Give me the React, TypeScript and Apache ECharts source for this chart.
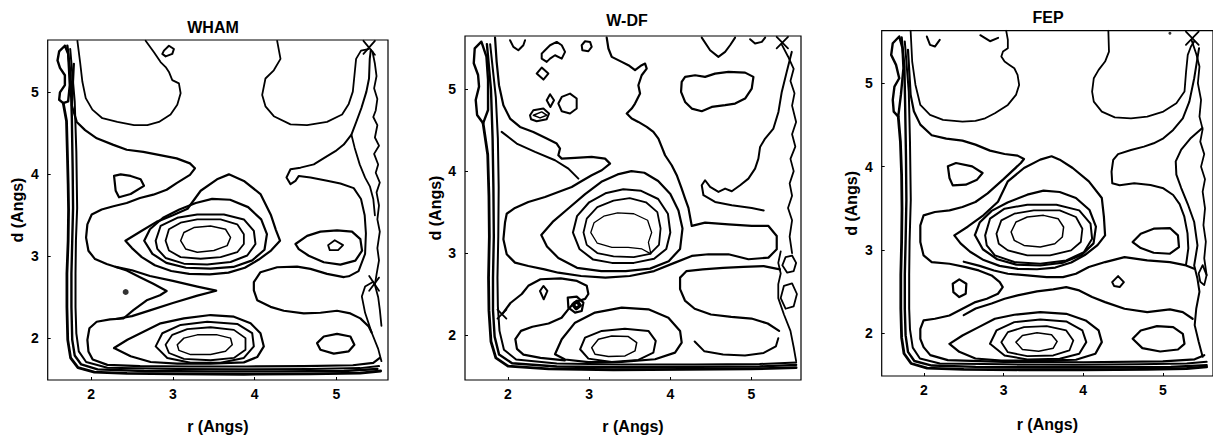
import React, { useEffect, useRef } from "react";
import * as echarts from "echarts";

type Pt = [number, number];
type Contour = { pts: Pt[]; w: number };

// ================= WHAM (r, d in Angstrom) =================
const whamLeaf: Pt[] = [[1.68,5.57],[1.61,5.50],[1.59,5.39],[1.62,5.30],[1.68,5.21],[1.68,5.09],[1.62,5.00],[1.61,4.91],[1.66,4.87],[1.72,4.89],[1.74,5.09],[1.73,5.29],[1.72,5.47],[1.68,5.57]];
const whamWall1: Pt[] = [[1.66,4.87],[1.70,4.65],[1.71,4.28],[1.72,3.88],[1.725,3.57],[1.72,3.19],[1.705,2.79],[1.705,2.38],[1.715,1.98],[1.75,1.76],[1.84,1.64],[2.04,1.585],[2.44,1.57],[3.05,1.565],[3.87,1.56],[4.68,1.565],[5.29,1.575],[5.54,1.60]];
const whamWall2: Pt[] = [[1.71,5.57],[1.75,5.21],[1.765,4.69],[1.775,4.08],[1.78,3.59],[1.77,3.19],[1.76,2.79],[1.76,2.38],[1.77,1.98],[1.80,1.79],[1.88,1.68],[2.08,1.62],[2.65,1.60],[3.46,1.595],[4.28,1.595],[5.09,1.60],[5.50,1.625]];
const whamWall3: Pt[] = [[1.745,5.53],[1.80,4.89],[1.82,4.28],[1.83,3.59],[1.815,3.19],[1.81,2.79],[1.81,2.38],[1.82,2.06],[1.85,1.84],[1.94,1.71],[2.20,1.64],[3.05,1.625],[3.87,1.62],[4.68,1.625],[5.29,1.635],[5.52,1.66]];
const whamOuter: Pt[] = [[1.79,5.35],[1.765,4.84],[1.825,4.64],[1.927,4.54],[2.07,4.44],[2.273,4.36],[2.436,4.30],[2.639,4.275],[2.843,4.235],[3.046,4.195],[3.209,4.134],[3.27,4.074],[3.209,3.993],[3.046,3.893],[2.924,3.812],[2.761,3.752],[2.598,3.712],[2.436,3.651],[2.273,3.611],[2.13,3.571],[2.008,3.51],[1.955,3.389],[1.939,3.228],[1.968,3.067],[2.049,2.966],[2.191,2.906],[2.436,2.826],[2.598,2.745],[2.761,2.664],[2.924,2.576],[2.843,2.524],[2.68,2.463],[2.517,2.342],[2.395,2.241],[2.232,2.229],[2.069,2.201],[1.98,2.121],[1.955,1.98],[1.968,1.839],[2.02,1.74],[2.2,1.675],[2.6,1.66],[3.2,1.655],[3.9,1.655],[4.6,1.66],[5.2,1.67],[5.45,1.70],[5.53,1.76]];
const whamTopLeftU: Pt[] = [[1.833,5.63],[1.866,5.37],[1.894,5.13],[1.935,4.93],[2.016,4.79],[2.138,4.685],[2.321,4.64],[2.525,4.60],[2.688,4.60],[2.83,4.64],[2.972,4.73],[3.054,4.85],[3.095,4.99],[3.074,5.11],[2.993,5.15],[2.952,5.25],[2.912,5.31],[2.85,5.37],[2.769,5.49],[2.667,5.63]];
const whamTopLoop: Pt[] = [[2.891,5.51],[2.952,5.57],[3.013,5.53],[2.993,5.47],[2.912,5.44],[2.871,5.47],[2.891,5.51]];
const whamTopRightU: Pt[] = [[4.275,5.63],[4.316,5.41],[4.234,5.27],[4.132,5.17],[4.092,4.97],[4.132,4.83],[4.234,4.71],[4.438,4.61],[4.641,4.60],[4.885,4.64],[5.069,4.73],[5.15,4.86],[5.20,5.01],[5.22,5.21],[5.24,5.41],[5.30,5.51],[5.39,5.53]];
const whamCrossA: Pt[] = [[5.33,5.63],[5.47,5.46]];
const whamCrossB: Pt[] = [[5.33,5.47],[5.47,5.63]];
const whamRightUpper: Pt[] = [[5.42,5.52],[5.407,5.41],[5.398,5.17],[5.366,5.01],[5.305,4.81],[5.244,4.645],[5.183,4.484],[5.089,4.364],[4.987,4.283],[4.886,4.223],[4.723,4.122],[4.56,4.082],[4.438,4.062],[4.389,3.961],[4.438,3.881],[4.499,3.921],[4.54,3.981],[4.682,3.961],[4.886,3.921],[5.048,3.889],[5.211,3.832],[5.30,3.70],[5.345,3.50],[5.36,3.28],[5.35,3.03],[5.27,2.82],[5.15,2.755],[5.089,2.746]];
const whamRightBranch: Pt[] = [[5.183,4.484],[5.223,4.323],[5.284,4.122],[5.35,3.96],[5.41,3.85],[5.45,3.70],[5.47,3.50]];
const whamRightZig: Pt[] = [[5.44,5.50],[5.47,5.35],[5.49,5.20],[5.46,5.05],[5.50,4.92],[5.48,4.78],[5.45,4.70],[5.50,4.60],[5.47,4.45],[5.52,4.35],[5.46,4.25],[5.51,4.12],[5.48,4.02],[5.53,3.90],[5.49,3.78],[5.52,3.62],[5.50,3.45],[5.53,3.30],[5.50,3.10],[5.52,2.95],[5.49,2.78],[5.47,2.65],[5.51,2.50],[5.53,2.35],[5.55,2.15]];
const whamRightLow: Pt[] = [[5.55,1.72],[5.51,1.87],[5.43,2.07],[5.35,2.31],[5.31,2.51],[5.35,2.63],[5.45,2.69]];
const whamCrossC: Pt[] = [[5.40,2.76],[5.52,2.58]];
const whamCrossD: Pt[] = [[5.40,2.58],[5.52,2.74]];
const whamTriangle: Pt[] = [[2.281,3.981],[2.301,3.80],[2.342,3.72],[2.484,3.76],[2.647,3.86],[2.606,3.94],[2.484,3.981],[2.362,4.0],[2.281,3.981]];
const whamUp1: Pt[] = [[3.095,3.19],[3.135,3.29],[3.257,3.35],[3.461,3.37],[3.644,3.33],[3.705,3.23],[3.664,3.13],[3.502,3.07],[3.298,3.05],[3.156,3.09],[3.095,3.19]];
const whamUp2: Pt[] = [[2.911,3.19],[2.952,3.33],[3.095,3.41],[3.298,3.45],[3.583,3.45],[3.787,3.39],[3.868,3.27],[3.868,3.15],[3.787,3.05],[3.583,2.99],[3.339,2.97],[3.095,2.99],[2.952,3.07],[2.911,3.19]];
const whamUp3: Pt[] = [[2.79,3.19],[2.85,3.37],[3.054,3.47],[3.298,3.51],[3.624,3.51],[3.868,3.45],[3.99,3.31],[4.01,3.15],[3.909,3.01],[3.705,2.93],[3.42,2.90],[3.135,2.91],[2.911,2.98],[2.81,3.09],[2.79,3.19]];
const whamUp4: Pt[] = [[2.65,3.19],[2.72,3.33],[2.88,3.47],[3.08,3.57],[3.28,3.65],[3.48,3.70],[3.70,3.69],[3.92,3.60],[4.08,3.45],[4.15,3.27],[4.12,3.08],[3.97,2.95],[3.74,2.87],[3.46,2.85],[3.16,2.86],[2.92,2.92],[2.75,3.03],[2.65,3.19]];
const whamUp5: Pt[] = [[2.42,3.19],[2.60,3.30],[2.80,3.42],[3.00,3.50],[3.18,3.58],[3.34,3.80],[3.54,3.94],[3.685,4.0],[3.868,3.92],[4.071,3.76],[4.20,3.50],[4.26,3.32],[4.31,3.19],[4.20,3.07],[4.05,2.96],[3.88,2.86],[3.68,2.80],[3.45,2.78],[3.20,2.785],[2.98,2.82],[2.78,2.89],[2.62,2.99],[2.50,3.10],[2.42,3.19]];
const whamTongue: Pt[] = [[2.30,2.87],[2.50,2.83],[2.72,2.76],[3.0,2.70],[3.3,2.63],[3.53,2.58],[3.3,2.52],[3.0,2.43],[2.72,2.34],[2.50,2.27],[2.30,2.235]];
const whamRightMin0: Pt[] = [[4.898,3.136],[4.979,3.196],[5.081,3.136],[5.02,3.075],[4.918,3.075],[4.898,3.136]];
const whamRightMin1: Pt[] = [[4.499,3.15],[4.641,3.249],[4.804,3.301],[5.007,3.317],[5.19,3.301],[5.292,3.209],[5.313,3.068],[5.231,2.947],[5.048,2.899],[4.845,2.927],[4.661,3.007],[4.539,3.088],[4.499,3.15]];
const whamPlateau: Pt[] = [[5.089,2.746],[4.885,2.786],[4.682,2.846],[4.519,2.874],[4.275,2.866],[4.071,2.806],[3.99,2.685],[3.99,2.585],[4.031,2.464],[4.194,2.383],[4.356,2.335],[4.60,2.303],[4.804,2.311],[5.007,2.335],[5.17,2.303],[5.292,2.242],[5.394,2.142],[5.43,2.07]];
const whamLow1: Pt[] = [[3.054,1.92],[3.135,2.001],[3.298,2.041],[3.542,2.041],[3.705,2.001],[3.726,1.92],[3.644,1.84],[3.461,1.80],[3.217,1.80],[3.074,1.852],[3.054,1.92]];
const whamLow2: Pt[] = [[2.911,1.92],[2.993,2.041],[3.176,2.11],[3.461,2.134],[3.746,2.102],[3.888,2.001],[3.888,1.86],[3.746,1.759],[3.461,1.731],[3.135,1.747],[2.952,1.82],[2.911,1.92]];
const whamLow3: Pt[] = [[2.79,1.90],[2.871,2.061],[3.095,2.162],[3.42,2.202],[3.787,2.174],[3.97,2.061],[3.99,1.90],[3.868,1.759],[3.583,1.70],[3.217,1.70],[2.932,1.759],[2.79,1.90]];
const whamLow4: Pt[] = [[2.281,1.88],[2.444,1.981],[2.647,2.081],[2.85,2.182],[3.135,2.242],[3.461,2.283],[3.746,2.263],[3.95,2.182],[4.071,2.061],[4.112,1.90],[4.031,1.77],[3.868,1.705],[3.461,1.69],[3.054,1.69],[2.728,1.71],[2.484,1.78],[2.281,1.88]];
const whamLowRight: Pt[] = [[4.763,1.94],[4.845,2.021],[5.007,2.053],[5.17,2.021],[5.219,1.92],[5.15,1.84],[4.967,1.812],[4.804,1.86],[4.763,1.94]];
const whamDots: Pt[] = [[2.423,2.564]];

const whamContours: Contour[] = [
  { pts: whamLeaf, w: 2.4 }, { pts: whamWall1, w: 2.8 }, { pts: whamWall2, w: 2.4 }, { pts: whamWall3, w: 2 },
  { pts: whamOuter, w: 2.2 }, { pts: whamTopLeftU, w: 1.8 }, { pts: whamTopLoop, w: 2 }, { pts: whamTopRightU, w: 1.8 },
  { pts: whamCrossA, w: 1.8 }, { pts: whamCrossB, w: 1.8 }, { pts: whamRightUpper, w: 2 }, { pts: whamRightBranch, w: 1.8 },
  { pts: whamRightZig, w: 1.8 }, { pts: whamRightLow, w: 1.8 }, { pts: whamCrossC, w: 1.8 }, { pts: whamCrossD, w: 1.8 },
  { pts: whamTriangle, w: 2.2 }, { pts: whamUp1, w: 1.5 }, { pts: whamUp2, w: 1.8 }, { pts: whamUp3, w: 2 },
  { pts: whamUp4, w: 2.2 }, { pts: whamUp5, w: 2.2 }, { pts: whamTongue, w: 2.2 }, { pts: whamRightMin0, w: 1.8 },
  { pts: whamRightMin1, w: 2.2 }, { pts: whamPlateau, w: 2.2 }, { pts: whamLow1, w: 1.5 }, { pts: whamLow2, w: 1.8 },
  { pts: whamLow3, w: 2 }, { pts: whamLow4, w: 2.2 }, { pts: whamLowRight, w: 2.2 },
];

// ================= W-DF =================
const wdfLeaf: Pt[] = [[1.672,5.581],[1.59,5.50],[1.578,5.317],[1.631,5.174],[1.643,5.032],[1.602,4.869],[1.619,4.686],[1.693,4.584],[1.754,4.747],[1.754,5.113],[1.734,5.398],[1.672,5.581]];
const wdfWall1: Pt[] = [[1.693,4.584],[1.75,4.2],[1.765,3.7],[1.77,3.2],[1.76,2.7],[1.765,2.3],[1.79,1.92],[1.85,1.72],[2.0,1.62],[2.5,1.585],[3.3,1.575],[4.2,1.58],[5.0,1.585],[5.55,1.60]];
const wdfWall2: Pt[] = [[1.74,5.55],[1.79,5.0],[1.81,4.4],[1.82,3.8],[1.825,3.2],[1.815,2.7],[1.815,2.3],[1.835,1.98],[1.89,1.76],[2.05,1.655],[2.6,1.615],[3.4,1.605],[4.3,1.61],[5.1,1.615],[5.55,1.635]];
const wdfWall3: Pt[] = [[1.78,5.55],[1.85,4.9],[1.875,4.4],[1.885,3.8],[1.88,3.2],[1.87,2.7],[1.875,2.35],[1.895,2.05],[1.95,1.82],[2.10,1.70],[2.6,1.65],[3.4,1.64],[4.3,1.64],[5.1,1.645],[5.55,1.665]];
const wdfMain: Pt[] = [[1.84,5.63],[1.86,5.334],[1.889,5.049],[1.943,4.805],[2.025,4.642],[2.148,4.54],[2.312,4.479],[2.477,4.398],[2.6,4.337],[2.641,4.276],[2.62,4.194],[2.662,4.153],[2.826,4.161],[3.031,4.174],[3.196,4.153],[3.257,4.092],[3.155,4.011],[3.031,3.95],[2.888,3.868],[2.785,3.807],[2.62,3.746],[2.456,3.685],[2.25,3.624],[2.086,3.551],[1.984,3.48],[1.963,3.372],[1.943,3.168],[1.984,2.985],[2.086,2.883],[2.25,2.842],[2.45,2.80],[2.62,2.76],[2.9,2.72],[3.2,2.70],[3.5,2.72],[3.8,2.78],[4.05,2.88],[4.264,2.965],[4.469,2.985],[4.716,2.985],[4.962,2.924],[5.209,2.944],[5.311,3.046],[5.311,3.209],[5.209,3.331],[5.003,3.331],[4.716,3.351],[4.428,3.372],[4.264,3.331],[4.223,3.551],[4.182,3.665],[4.14,3.787],[4.079,3.95],[4.017,4.072],[3.935,4.194],[3.894,4.296],[3.853,4.398],[3.791,4.479],[3.709,4.54],[3.606,4.601],[3.524,4.642],[3.463,4.703],[3.524,4.764],[3.565,4.825],[3.627,4.947],[3.606,5.049],[3.647,5.171],[3.709,5.252],[3.689,5.313],[3.647,5.293],[3.565,5.232],[3.483,5.293],[3.401,5.334],[3.278,5.395],[3.237,5.497],[3.216,5.63]];
const wdfLeftLine: Pt[] = [[1.922,4.479],[2.107,4.337],[2.333,4.235],[2.579,4.133],[2.744,4.031],[2.867,3.909]];
const wdfTopU1: Pt[] = [[2.025,5.598],[2.066,5.517],[2.127,5.476],[2.189,5.537],[2.21,5.598]];
const wdfTopLoopA: Pt[] = [[2.415,5.435],[2.456,5.476],[2.518,5.537],[2.6,5.578],[2.662,5.537],[2.703,5.456],[2.662,5.374],[2.579,5.415],[2.518,5.374],[2.477,5.334],[2.415,5.374],[2.415,5.435]];
const wdfTopLoopB: Pt[] = [[2.908,5.537],[2.949,5.586],[3.011,5.578],[3.031,5.517],[2.99,5.464],[2.916,5.476],[2.908,5.537]];
const wdfLoopC: Pt[] = [[2.353,5.191],[2.415,5.265],[2.497,5.191],[2.436,5.118],[2.353,5.191]];
const wdfLoopD: Pt[] = [[2.477,4.866],[2.518,4.939],[2.567,4.866],[2.522,4.784],[2.477,4.866]];
const wdfLoopE: Pt[] = [[2.62,4.825],[2.662,4.906],[2.764,4.947],[2.846,4.886],[2.846,4.764],[2.764,4.703],[2.662,4.731],[2.62,4.825]];
const wdfLoopF: Pt[] = [[2.271,4.683],[2.312,4.744],[2.436,4.764],[2.505,4.703],[2.477,4.634],[2.353,4.609],[2.284,4.634],[2.271,4.683]];
const wdfLoopG: Pt[] = [[2.312,4.683],[2.415,4.723],[2.477,4.683],[2.395,4.65],[2.312,4.683]];
const wdfLake: Pt[] = [[4.132,4.967],[4.14,5.09],[4.182,5.151],[4.305,5.171],[4.428,5.151],[4.551,5.191],[4.716,5.212],[4.921,5.203],[5.024,5.151],[5.003,5.008],[4.921,4.886],[4.798,4.825],[4.675,4.805],[4.51,4.784],[4.387,4.731],[4.264,4.764],[4.182,4.845],[4.132,4.967]];
const wdfTopU2: Pt[] = [[4.387,5.63],[4.49,5.476],[4.592,5.395],[4.675,5.456],[4.736,5.537],[4.798,5.63]];
const wdfTopU3: Pt[] = [[4.983,5.61],[5.044,5.558],[5.127,5.578],[5.168,5.63]];
const wdfCrossA: Pt[] = [[5.31,5.64],[5.45,5.50]];
const wdfCrossB: Pt[] = [[5.31,5.50],[5.45,5.64]];
const wdfRightA: Pt[] = [[5.496,5.456],[5.434,5.212],[5.373,4.967],[5.332,4.723],[5.27,4.52],[5.168,4.398],[5.106,4.296],[5.085,4.153],[5.044,4.031],[4.962,3.909],[4.86,3.828],[4.757,3.755],[4.675,3.787],[4.593,3.746],[4.49,3.807],[4.428,3.889],[4.387,3.828],[4.408,3.706],[4.551,3.624],[4.757,3.584],[5.003,3.551],[5.15,3.52]];
const wdfRightZig: Pt[] = [[5.37,5.55],[5.45,5.40],[5.52,5.25],[5.48,5.10],[5.53,4.95],[5.50,4.80],[5.55,4.60],[5.50,4.45],[5.54,4.30],[5.48,4.15],[5.52,4.00],[5.47,3.85],[5.50,3.70],[5.45,3.55],[5.50,3.40],[5.47,3.20],[5.50,3.00]];
const wdfRightLoopA: Pt[] = [[5.38,2.85],[5.42,2.95],[5.50,2.97],[5.55,2.88],[5.52,2.78],[5.44,2.76],[5.38,2.85]];
const wdfRightLoopB: Pt[] = [[5.36,2.45],[5.40,2.60],[5.50,2.63],[5.56,2.50],[5.52,2.35],[5.42,2.32],[5.36,2.45]];
const wdfRightLow: Pt[] = [[5.55,1.68],[5.52,1.85],[5.48,2.05],[5.40,2.25],[5.33,2.45],[5.33,2.62],[5.36,2.75],[5.33,2.88],[5.36,3.02]];
const wdfUp1: Pt[] = [[3.02,3.25],[3.06,3.37],[3.18,3.45],[3.35,3.49],[3.55,3.48],[3.72,3.40],[3.77,3.25],[3.73,3.13],[3.76,2.99],[3.65,3.05],[3.48,3.07],[3.28,3.07],[3.10,3.12],[3.02,3.25]];
const wdfUp2: Pt[] = [[2.93,3.25],[2.97,3.42],[3.10,3.56],[3.30,3.64],[3.50,3.67],[3.70,3.62],[3.84,3.50],[3.88,3.30],[3.86,3.10],[3.75,2.99],[3.55,2.95],[3.30,2.96],[3.10,3.00],[2.97,3.10],[2.93,3.25]];
const wdfUp3: Pt[] = [[2.80,3.25],[2.85,3.45],[3.00,3.62],[3.20,3.73],[3.42,3.78],[3.64,3.76],[3.85,3.66],[3.97,3.48],[4.00,3.25],[3.95,3.05],[3.80,2.93],[3.55,2.88],[3.28,2.88],[3.05,2.92],[2.88,3.05],[2.80,3.25]];
const wdfUp4: Pt[] = [[2.41,3.22],[2.55,3.38],[2.75,3.55],[2.95,3.72],[3.15,3.87],[3.35,3.96],[3.52,4.00],[3.68,3.98],[3.85,3.88],[4.0,3.72],[4.10,3.52],[4.15,3.30],[4.12,3.05],[3.98,2.90],[3.75,2.81],[3.45,2.78],[3.15,2.78],[2.85,2.82],[2.62,2.94],[2.48,3.08],[2.41,3.22]];
const wdfMidLeft: Pt[] = [[1.94,2.27],[2.03,2.39],[2.17,2.50],[2.25,2.60],[2.40,2.68],[2.65,2.69],[2.85,2.66],[2.97,2.60],[2.99,2.50],[2.95,2.44],[2.82,2.40],[2.74,2.31],[2.66,2.21],[2.50,2.14],[2.30,2.10],[2.16,2.05],[2.09,1.95],[2.11,1.83],[2.19,1.76],[2.40,1.72],[2.7,1.69]];
const wdfDiamond: Pt[] = [[2.394,2.537],[2.436,2.598],[2.485,2.537],[2.44,2.435],[2.394,2.537]];
const wdfSquare: Pt[] = [[2.736,2.456],[2.847,2.468],[2.929,2.395],[2.908,2.293],[2.826,2.273],[2.744,2.334],[2.736,2.456]];
const wdfSquareCore: Pt[] = [[2.80,2.37],[2.85,2.41],[2.89,2.36],[2.84,2.32],[2.80,2.37]];
const wdfCrossA2: Pt[] = [[1.87,2.31],[1.98,2.20]];
const wdfCrossB2: Pt[] = [[1.87,2.20],[1.98,2.31]];
const wdfLow1: Pt[] = [[3.031,1.845],[3.114,1.947],[3.278,1.988],[3.483,1.98],[3.586,1.906],[3.565,1.805],[3.442,1.744],[3.237,1.736],[3.072,1.764],[3.031,1.845]];
const wdfLow2: Pt[] = [[2.888,1.825],[2.949,1.967],[3.155,2.049],[3.44,2.077],[3.73,2.049],[3.82,1.927],[3.791,1.784],[3.606,1.695],[3.278,1.67],[2.99,1.711],[2.888,1.825]];
const wdfLow3: Pt[] = [[2.579,1.764],[2.662,1.947],[2.826,2.15],[3.072,2.273],[3.401,2.334],[3.73,2.313],[3.976,2.211],[4.12,2.049],[4.14,1.906],[4.058,1.784],[3.812,1.703],[3.401,1.672],[2.99,1.668],[2.703,1.70],[2.579,1.764]];
const wdfPlateau: Pt[] = [[5.35,2.80],[5.15,2.84],[4.90,2.83],[4.65,2.82],[4.40,2.80],[4.20,2.78],[4.12,2.70],[4.12,2.56],[4.18,2.42],[4.30,2.32],[4.50,2.25],[4.75,2.22],[5.0,2.20],[5.20,2.14],[5.34,2.05]];
const wdfLowRight: Pt[] = [[4.30,1.92],[4.42,1.80],[4.65,1.76],[4.92,1.75],[5.15,1.78],[5.30,1.86],[5.33,1.96]];

const wdfContours: Contour[] = [
  { pts: wdfLeaf, w: 2.4 }, { pts: wdfWall1, w: 2.8 }, { pts: wdfWall2, w: 2.4 }, { pts: wdfWall3, w: 2 },
  { pts: wdfMain, w: 2.2 }, { pts: wdfLeftLine, w: 2 }, { pts: wdfTopU1, w: 2 }, { pts: wdfTopLoopA, w: 2 },
  { pts: wdfTopLoopB, w: 2 }, { pts: wdfLoopC, w: 2 }, { pts: wdfLoopD, w: 2 }, { pts: wdfLoopE, w: 2 },
  { pts: wdfLoopF, w: 2 }, { pts: wdfLoopG, w: 1.5 }, { pts: wdfLake, w: 2.2 }, { pts: wdfTopU2, w: 2 },
  { pts: wdfTopU3, w: 2 }, { pts: wdfCrossA, w: 1.8 }, { pts: wdfCrossB, w: 1.8 }, { pts: wdfRightA, w: 2 },
  { pts: wdfRightZig, w: 1.8 }, { pts: wdfRightLoopA, w: 1.8 }, { pts: wdfRightLoopB, w: 1.8 }, { pts: wdfRightLow, w: 1.8 },
  { pts: wdfUp1, w: 1.3 }, { pts: wdfUp2, w: 1.8 }, { pts: wdfUp3, w: 2 }, { pts: wdfUp4, w: 2.2 },
  { pts: wdfMidLeft, w: 2.2 }, { pts: wdfDiamond, w: 2 }, { pts: wdfSquare, w: 2.2 }, { pts: wdfSquareCore, w: 3.5 },
  { pts: wdfCrossA2, w: 1.8 }, { pts: wdfCrossB2, w: 1.8 }, { pts: wdfLow1, w: 1.5 }, { pts: wdfLow2, w: 2 },
  { pts: wdfLow3, w: 2.2 }, { pts: wdfPlateau, w: 2.2 }, { pts: wdfLowRight, w: 2 },
];

// ================= FEP =================
const fepLeaf: Pt[] = [[1.69,5.56],[1.609,5.48],[1.589,5.34],[1.65,5.22],[1.69,5.06],[1.63,4.96],[1.609,4.80],[1.621,4.66],[1.678,4.60],[1.711,4.86],[1.743,5.18],[1.731,5.42],[1.69,5.56]];
const fepWall1: Pt[] = [[1.678,4.60],[1.705,4.30],[1.72,3.90],[1.725,3.50],[1.72,3.10],[1.71,2.70],[1.71,2.30],[1.72,1.95],[1.75,1.76],[1.84,1.64],[2.04,1.585],[2.5,1.57],[3.2,1.565],[4.0,1.565],[4.8,1.57],[5.3,1.58],[5.55,1.60]];
const fepWall2: Pt[] = [[1.72,5.55],[1.755,5.20],[1.765,4.70],[1.775,4.10],[1.78,3.60],[1.77,3.10],[1.76,2.70],[1.76,2.30],[1.77,1.98],[1.80,1.78],[1.88,1.67],[2.10,1.615],[2.65,1.60],[3.5,1.595],[4.3,1.595],[5.1,1.60],[5.55,1.62]];
const fepWall3: Pt[] = [[1.76,5.50],[1.81,4.90],[1.825,4.30],[1.835,3.60],[1.82,3.10],[1.815,2.70],[1.815,2.30],[1.825,2.05],[1.86,1.83],[1.95,1.70],[2.2,1.64],[3.0,1.63],[3.9,1.625],[4.7,1.63],[5.3,1.64],[5.55,1.66]];
const fepOuter: Pt[] = [[1.80,5.40],[1.833,4.864],[1.874,4.664],[1.955,4.504],[2.098,4.376],[2.281,4.336],[2.484,4.312],[2.647,4.264],[2.83,4.192],[3.013,4.152],[3.176,4.132],[3.257,4.092],[3.217,4.044],[3.0,3.85],[2.8,3.68],[2.647,3.576],[2.484,3.516],[2.321,3.476],[2.138,3.456],[1.996,3.416],[1.955,3.296],[1.955,3.096],[1.996,2.936],[2.098,2.856],[2.321,2.836],[2.525,2.796],[2.688,2.756],[2.85,2.696],[2.952,2.616],[2.99,2.556],[2.93,2.476],[2.79,2.416],[2.647,2.376],[2.484,2.296],[2.321,2.216],[2.138,2.176],[1.996,2.156],[1.955,2.056],[1.955,1.936],[1.996,1.836],[2.08,1.74],[2.3,1.68],[3.0,1.66],[4.0,1.655],[5.0,1.665],[5.4,1.69],[5.52,1.74]];
const fepTopLeftU: Pt[] = [[1.833,5.63],[1.853,5.26],[1.894,4.98],[1.955,4.74],[2.077,4.62],[2.24,4.56],[2.484,4.54],[2.647,4.55],[2.769,4.58],[2.891,4.64],[3.054,4.74],[3.156,4.86],[3.196,4.98],[3.176,5.10],[3.135,5.18],[3.074,5.22],[3.013,5.26],[2.972,5.32],[2.993,5.38],[3.054,5.42],[3.054,5.52],[3.033,5.63]];
const fepTopV1: Pt[] = [[2.037,5.56],[2.077,5.46],[2.138,5.44],[2.199,5.52]];
const fepTopV2: Pt[] = [[2.708,5.576],[2.83,5.504],[2.932,5.544]];
const fepTopRightU: Pt[] = [[4.316,5.63],[4.324,5.38],[4.275,5.26],[4.194,5.16],[4.133,5.06],[4.112,4.90],[4.133,4.78],[4.234,4.66],[4.397,4.59],[4.6,4.58],[4.804,4.60],[5.007,4.66],[5.17,4.76],[5.272,4.90],[5.292,5.14],[5.313,5.34],[5.353,5.44],[5.394,5.50]];
const fepCrossA: Pt[] = [[5.29,5.62],[5.45,5.46]];
const fepCrossB: Pt[] = [[5.29,5.46],[5.45,5.62]];
const fepRightUpper: Pt[] = [[5.455,5.42],[5.394,5.06],[5.333,4.78],[5.251,4.58],[5.13,4.44],[5.007,4.34],[4.885,4.28],[4.763,4.24],[4.60,4.20],[4.438,4.15],[4.377,4.08],[4.356,3.94],[4.365,3.80],[4.458,3.776],[4.641,3.80],[4.845,3.78],[5.007,3.74],[5.13,3.66],[5.211,3.55],[5.27,3.40],[5.31,3.20],[5.32,3.02],[5.30,2.88],[5.29,2.82]];
const fepRight1: Pt[] = [[5.496,4.464],[5.353,4.344],[5.231,4.204],[5.162,4.064],[5.17,3.904],[5.231,3.744],[5.313,3.552],[5.394,3.336],[5.435,3.056],[5.394,2.816],[5.435,2.656],[5.46,2.50],[5.42,2.30],[5.40,2.10],[5.45,1.90],[5.50,1.72]];
const fepRightZig: Pt[] = [[5.36,5.52],[5.42,5.35],[5.46,5.20],[5.44,5.00],[5.48,4.80],[5.46,4.60],[5.50,4.45],[5.47,4.30],[5.52,4.15],[5.48,4.00],[5.53,3.85],[5.50,3.70],[5.53,3.50],[5.51,3.30],[5.54,3.10],[5.52,2.90],[5.55,2.70]];
const fepRightLoop: Pt[] = [[5.45,2.72],[5.50,2.82],[5.55,2.70],[5.52,2.58],[5.47,2.62],[5.45,2.72]];
const fepTriangle: Pt[] = [[2.301,4.004],[2.403,4.044],[2.606,4.004],[2.737,3.924],[2.667,3.844],[2.525,3.784],[2.362,3.776],[2.321,3.864],[2.301,4.004]];
const fepUp1: Pt[] = [[3.095,3.216],[3.156,3.336],[3.298,3.396],[3.502,3.416],[3.685,3.376],[3.754,3.276],[3.738,3.156],[3.644,3.076],[3.461,3.036],[3.257,3.056],[3.135,3.116],[3.095,3.216]];
const fepUp2: Pt[] = [[2.911,3.196],[2.972,3.356],[3.135,3.436],[3.38,3.476],[3.705,3.476],[3.909,3.396],[3.99,3.256],[3.97,3.096],[3.848,2.996],[3.583,2.936],[3.298,2.936],[3.054,2.996],[2.94,3.076],[2.911,3.196]];
const fepUp3: Pt[] = [[2.769,3.176],[2.83,3.376],[3.013,3.496],[3.298,3.544],[3.664,3.544],[3.95,3.476],[4.092,3.316],[4.112,3.136],[4.01,2.976],[3.787,2.876],[3.461,2.836],[3.135,2.856],[2.891,2.936],[2.789,3.056],[2.769,3.176]];
const fepUp4: Pt[] = [[2.64,3.18],[2.70,3.33],[2.85,3.47],[3.05,3.57],[3.298,3.664],[3.502,3.712],[3.705,3.696],[3.909,3.624],[4.08,3.48],[4.16,3.28],[4.13,3.08],[3.98,2.94],[3.75,2.85],[3.46,2.815],[3.16,2.825],[2.92,2.89],[2.74,3.01],[2.64,3.18]];
const fepUp5: Pt[] = [[2.382,3.176],[2.55,3.28],[2.75,3.42],[2.93,3.58],[3.054,3.824],[3.257,3.984],[3.461,4.084],[3.603,4.124],[3.705,4.084],[3.868,3.984],[4.071,3.824],[4.234,3.624],[4.26,3.40],[4.275,3.176],[4.18,3.06],[4.02,2.94],[3.85,2.85],[3.65,2.79],[3.42,2.77],[3.18,2.775],[2.95,2.81],[2.75,2.88],[2.58,2.98],[2.46,3.08],[2.382,3.176]];
const fepChannelTop: Pt[] = [[2.50,2.86],[2.70,2.81],[2.88,2.755],[3.054,2.716],[3.298,2.696],[3.542,2.676],[3.746,2.676],[3.909,2.716],[4.071,2.796],[4.275,2.856],[4.519,2.916],[4.804,2.876],[5.089,2.856],[5.292,2.816],[5.394,2.776]];
const fepChannelBottom: Pt[] = [[2.50,2.22],[2.65,2.30],[2.85,2.36],[3.013,2.416],[3.176,2.456],[3.42,2.504],[3.624,2.528],[3.787,2.556],[3.95,2.516],[4.112,2.436],[4.275,2.376],[4.519,2.296],[4.804,2.256],[5.089,2.288],[5.251,2.256],[5.374,2.176]];
const fepLoopLeft: Pt[] = [[2.362,2.596],[2.444,2.648],[2.533,2.596],[2.525,2.476],[2.444,2.436],[2.37,2.496],[2.362,2.596]];
const fepLoopMid: Pt[] = [[4.364,2.616],[4.438,2.688],[4.511,2.616],[4.458,2.556],[4.389,2.568],[4.364,2.616]];
const fepRightMin: Pt[] = [[4.621,3.096],[4.723,3.196],[4.885,3.256],[5.089,3.264],[5.19,3.176],[5.203,3.036],[5.089,2.956],[4.885,2.968],[4.723,3.024],[4.621,3.096]];
const fepLow1: Pt[] = [[3.156,1.896],[3.237,1.976],[3.42,2.008],[3.603,1.984],[3.673,1.904],[3.624,1.824],[3.441,1.788],[3.237,1.808],[3.156,1.896]];
const fepLow2: Pt[] = [[2.972,1.896],[3.054,2.016],[3.257,2.076],[3.542,2.088],[3.787,2.036],[3.876,1.916],[3.827,1.796],[3.624,1.736],[3.298,1.728],[3.054,1.776],[2.972,1.896]];
const fepLow3: Pt[] = [[2.83,1.876],[2.911,2.036],[3.135,2.136],[3.461,2.168],[3.787,2.144],[3.99,2.036],[4.039,1.896],[3.95,1.756],[3.705,1.696],[3.298,1.688],[3.013,1.736],[2.83,1.876]];
const fepLow4: Pt[] = [[2.321,1.876],[2.484,1.976],[2.688,2.076],[2.891,2.176],[3.135,2.224],[3.461,2.256],[3.787,2.236],[4.031,2.156],[4.194,2.036],[4.234,1.896],[4.153,1.756],[3.909,1.685],[3.461,1.675],[2.972,1.675],[2.647,1.70],[2.444,1.78],[2.321,1.876]];
const fepLowRight: Pt[] = [[4.621,1.936],[4.723,2.036],[4.926,2.088],[5.13,2.076],[5.251,1.996],[5.272,1.876],[5.19,1.808],[4.967,1.784],[4.743,1.824],[4.621,1.936]];
const fepDots: Pt[] = [[5.089,5.60]];

const fepContours: Contour[] = [
  { pts: fepLeaf, w: 2.4 }, { pts: fepWall1, w: 2.8 }, { pts: fepWall2, w: 2.4 }, { pts: fepWall3, w: 2 },
  { pts: fepOuter, w: 2.2 }, { pts: fepTopLeftU, w: 1.8 }, { pts: fepTopV1, w: 2 }, { pts: fepTopV2, w: 2 },
  { pts: fepTopRightU, w: 1.8 }, { pts: fepCrossA, w: 1.8 }, { pts: fepCrossB, w: 1.8 }, { pts: fepRightUpper, w: 2 },
  { pts: fepRight1, w: 2 }, { pts: fepRightZig, w: 1.8 }, { pts: fepRightLoop, w: 1.8 }, { pts: fepTriangle, w: 2.2 },
  { pts: fepUp1, w: 1.5 }, { pts: fepUp2, w: 1.8 }, { pts: fepUp3, w: 2 }, { pts: fepUp4, w: 2.2 },
  { pts: fepUp5, w: 2.2 }, { pts: fepChannelTop, w: 2.2 }, { pts: fepChannelBottom, w: 2.2 }, { pts: fepLoopLeft, w: 2.2 },
  { pts: fepLoopMid, w: 2 }, { pts: fepRightMin, w: 2.2 }, { pts: fepLow1, w: 1.5 }, { pts: fepLow2, w: 1.8 },
  { pts: fepLow3, w: 2 }, { pts: fepLow4, w: 2.2 }, { pts: fepLowRight, w: 2.2 },
];

// tick values shared by the three panels
const xTicks = [2, 3, 4, 5];
const yTicks = [2, 3, 4, 5];

type Panel = {
  title: string; left: number; top: number; width: number; height: number;
  xRange: [number, number]; yRange: [number, number];
  titleX: number; titleY: number; nameGapX: number; nameGapY: number;
  contours: Contour[]; dots: Pt[]; dotSize: number;
};

const panels: Panel[] = [
  { title: "WHAM", left: 47.7, top: 40, width: 340.3, height: 344, xRange: [1.47, 5.63], yRange: [1.49, 5.64], titleX: 213, titleY: 27, nameGapX: 38, nameGapY: 22, contours: whamContours, dots: whamDots, dotSize: 6 },
  { title: "W-DF", left: 465, top: 36, width: 336, height: 344, xRange: [1.47, 5.61], yRange: [1.45, 5.65], titleX: 627, titleY: 20, nameGapX: 38, nameGapY: 22, contours: wdfContours, dots: [], dotSize: 0 },
  { title: "FEP", left: 881.7, top: 30.7, width: 340.6, height: 345.3, xRange: [1.47, 5.63], yRange: [1.49, 5.63], titleX: 1048, titleY: 17, nameGapX: 40, nameGapY: 22, contours: fepContours, dots: fepDots, dotSize: 3 },
];

const FONT = "Liberation Sans, Arial, sans-serif";

export default function App() {
  const ref = useRef<HTMLDivElement>(null);
  useEffect(() => {
    if (!ref.current) return;
    const chart = echarts.init(ref.current, undefined, { renderer: "svg" });
    const grids: any[] = [];
    const xAxes: any[] = [];
    const yAxes: any[] = [];
    const series: any[] = [];
    const graphics: any[] = [];
    panels.forEach((p, i) => {
      grids.push({ left: p.left, top: p.top, width: p.width, height: p.height, show: true, borderColor: "#000", borderWidth: 1.2, backgroundColor: "transparent", containLabel: false });
      const axisCommon = {
        type: "value", gridIndex: i, splitLine: { show: false }, axisLine: { show: false },
        nameLocation: "middle",
        nameTextStyle: { fontFamily: FONT, fontWeight: "bold", fontSize: 16, color: "#000" },
      };
      xAxes.push({
        ...axisCommon, min: p.xRange[0], max: p.xRange[1], name: "r (Angs)", nameGap: p.nameGapX,
        axisTick: { show: true, inside: true, length: 3, customValues: xTicks, lineStyle: { color: "#000" } },
        axisLabel: { customValues: xTicks, fontFamily: FONT, fontWeight: "bold", fontSize: 14, color: "#000", margin: 7 },
      });
      yAxes.push({
        ...axisCommon, min: p.yRange[0], max: p.yRange[1], name: "d (Angs)", nameGap: p.nameGapY,
        axisTick: { show: true, inside: true, length: 3, customValues: yTicks, lineStyle: { color: "#000" } },
        axisLabel: { customValues: yTicks, fontFamily: FONT, fontWeight: "bold", fontSize: 14, color: "#000", margin: 9 },
      });
      p.contours.forEach((c) => {
        series.push({
          type: "line", xAxisIndex: i, yAxisIndex: i, data: c.pts, showSymbol: false, symbol: "none",
          lineStyle: { color: "#000", width: c.w, join: "round", cap: "round" }, silent: true, clip: true,
        });
      });
      if (p.dots.length) {
        series.push({ type: "scatter", xAxisIndex: i, yAxisIndex: i, data: p.dots, symbolSize: p.dotSize, itemStyle: { color: "#000" }, silent: true });
      }
      graphics.push({
        type: "text", x: p.titleX, y: p.titleY,
        style: { text: p.title, align: "center", verticalAlign: "middle", font: `bold 16px ${FONT}`, fill: "#000" },
      });
    });
    chart.setOption({
      animation: false,
      backgroundColor: "#fff",
      grid: grids, xAxis: xAxes, yAxis: yAxes, series, graphic: graphics,
    });
    return () => chart.dispose();
  }, []);
  return <div ref={ref} style={{ position: "fixed", left: 0, top: 0, width: 1213, height: 439 }} />;
}
